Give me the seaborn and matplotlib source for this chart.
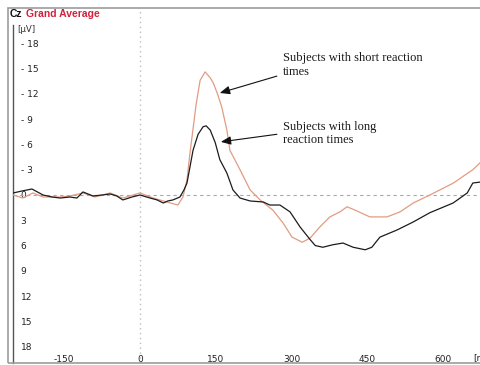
import numpy as np
import pandas as pd
import matplotlib
matplotlib.use("Agg")
import matplotlib.pyplot as plt
from matplotlib.patches import Rectangle
import seaborn as sns

# ---------------- data ----------------
time_long = [-251, -234, -214, -192, -174, -158, -139, -125, -113, -93, -75, -59, -46, -34, -16, 0,
             20, 34, 46, 55, 65, 79, 87, 93, 105, 115, 125, 131, 139, 149, 158, 172, 184, 198, 218,
             244, 257, 277, 297, 317, 337, 347, 362, 382, 402, 422, 446, 459, 475, 509, 541, 574,
             620, 648, 659, 675]
amp_long = [-0.24, -0.47, -0.71, 0, 0.24, 0.36, 0.24, 0.36, -0.36, 0.12, 0, -0.12, 0.12, 0.59, 0.24, 0,
            0.36, 0.59, 0.95, 0.71, 0.59, 0.24, -0.59, -1.42, -5.3, -7.2, -8.1, -8.2, -7.7, -6.2, -4.2,
            -2.6, -0.6, 0.36, 0.71, 0.83, 1.19, 1.19, 2.0, 3.8, 5.3, 6.0, 6.2, 5.9, 5.7, 6.2, 6.5, 6.2,
            5.0, 4.15, 3.2, 2.1, 0.95, -0.24, -1.42, -1.54]

time_short = [-251, -232, -212, -192, -158, -139, -113, -89, -59, -34, 0, 26, 53, 75, 85, 93, 99, 111,
              119, 129, 139, 145, 154, 162, 172, 178, 198, 218, 238, 263, 283, 301, 321, 331, 337, 356,
              376, 396, 410, 426, 455, 489, 515, 541, 574, 620, 659, 675]
amp_short = [0, 0.36, -0.24, 0.24, 0.24, 0.12, -0.24, 0.24, -0.24, 0.36, -0.24, 0.36, 0.83, 1.19, 0.24,
             -1.8, -5.0, -10.7, -13.6, -14.6, -13.9, -13.3, -11.9, -10.4, -7.7, -5.3, -3.0, -0.6, 0.6,
             1.8, 3.3, 5.0, 5.6, 5.3, 5.1, 3.8, 2.6, 2.0, 1.4, 1.8, 2.6, 2.6, 2.0, 0.95, 0, -1.4, -3.0,
             -3.9]

y_ticks = [-18, -15, -12, -9, -6, -3, 0, 3, 6, 9, 12, 15, 18]
y_tick_labels = ["- 18", "- 15", "- 12", "- 9", "- 6", "- 3", "0", "3", "6", "9", "12", "15", "18"]
x_ticks = [-150, 0, 150, 300, 450, 600]
x_tick_labels = ["-150", "0", "150", "300", "450", "600"]

label_short = "Subjects with short reaction\ntimes"
label_long = "Subjects with long\nreaction times"

df = pd.concat([
    pd.DataFrame({"time": time_long, "amp": amp_long, "group": "long"}),
    pd.DataFrame({"time": time_short, "amp": amp_short, "group": "short"}),
])

# ---------------- figure ----------------
sns.set_style("white")
W, H = 481, 365
fig = plt.figure(figsize=(W / 100, H / 100), dpi=100)
ax = fig.add_axes([13 / W, 2 / H, 468 / W, 355 / H])

ax.axhline(0, color="#a8a8a8", lw=0.8, ls=(0, (3, 3)), zorder=1)
ax.axvline(0, color="#bdbdbd", lw=1.0, ls=(0, (1, 2.5)), zorder=1)

sns.lineplot(data=df, x="time", y="amp", hue="group",
             palette={"long": "#1c1c1c", "short": "#e39b82"},
             hue_order=["short", "long"], linewidth=0.9, legend=False, ax=ax, zorder=3)

ax.set_xlim(-251.5, 675.2)
ax.set_ylim(19.93, -22.18)
ax.set_xlabel("")
ax.set_ylabel("")

for s in ["top", "right", "bottom"]:
    ax.spines[s].set_visible(False)
ax.spines["left"].set_color("#555555")
ax.spines["left"].set_linewidth(1.0)
ax.spines["left"].set_bounds(19.93, -20.2)

ax.set_yticks(y_ticks)
ax.set_yticklabels(y_tick_labels)
ax.tick_params(axis="y", direction="in", length=2.5, width=0.8, color="#555555",
               pad=-5.5, labelsize=6.5, labelcolor="#222222")
for lab in ax.get_yticklabels():
    lab.set_horizontalalignment("left")

ax.set_xticks(x_ticks)
ax.set_xticklabels(x_tick_labels)
ax.tick_params(axis="x", direction="in", length=0, pad=-6.0, labelsize=6.5, labelcolor="#222222")

ax.annotate("[ms]", xy=(659, 0.014), xycoords=("data", "axes fraction"),
            ha="left", va="center", fontsize=6.5, color="#222222", annotation_clip=False)

# outer frame
fig.patches.append(Rectangle((8 / W, 2 / H), 480 / W, 355 / H, transform=fig.transFigure,
                             fill=False, edgecolor="#9c9c9c", lw=1.2))

# header
fig.text(10 / W, 1 - 14 / H, "Cz", fontsize=7.5, fontweight="bold", color="#111111",
         va="center", ha="left", family="Liberation Sans")
fig.text(26 / W, 1 - 14 / H, "Grand Average", fontsize=7.5, fontweight="bold", color="#d2213d",
         va="center", ha="left", family="Liberation Sans")
fig.text(17 / W, 1 - 30 / H, "[µV]", fontsize=6.2, color="#333333", va="center", ha="left")

# annotations
ax.text(283, -15.4, label_short, fontsize=9, family="Liberation Serif", color="#1a1a1a",
        ha="left", va="center", linespacing=1.15)
ax.text(283, -7.3, label_long, fontsize=9, family="Liberation Serif", color="#1a1a1a",
        ha="left", va="center", linespacing=1.15)
arrow = dict(arrowstyle="-|>,head_length=0.6,head_width=0.25", color="#111111", lw=0.8,
             shrinkA=0, shrinkB=0)
ax.annotate("", xy=(158, -12.1), xytext=(271, -14.1), arrowprops=arrow)
ax.annotate("", xy=(160, -6.3), xytext=(271, -7.2), arrowprops=arrow)

fig.savefig("out.png", dpi=100)
